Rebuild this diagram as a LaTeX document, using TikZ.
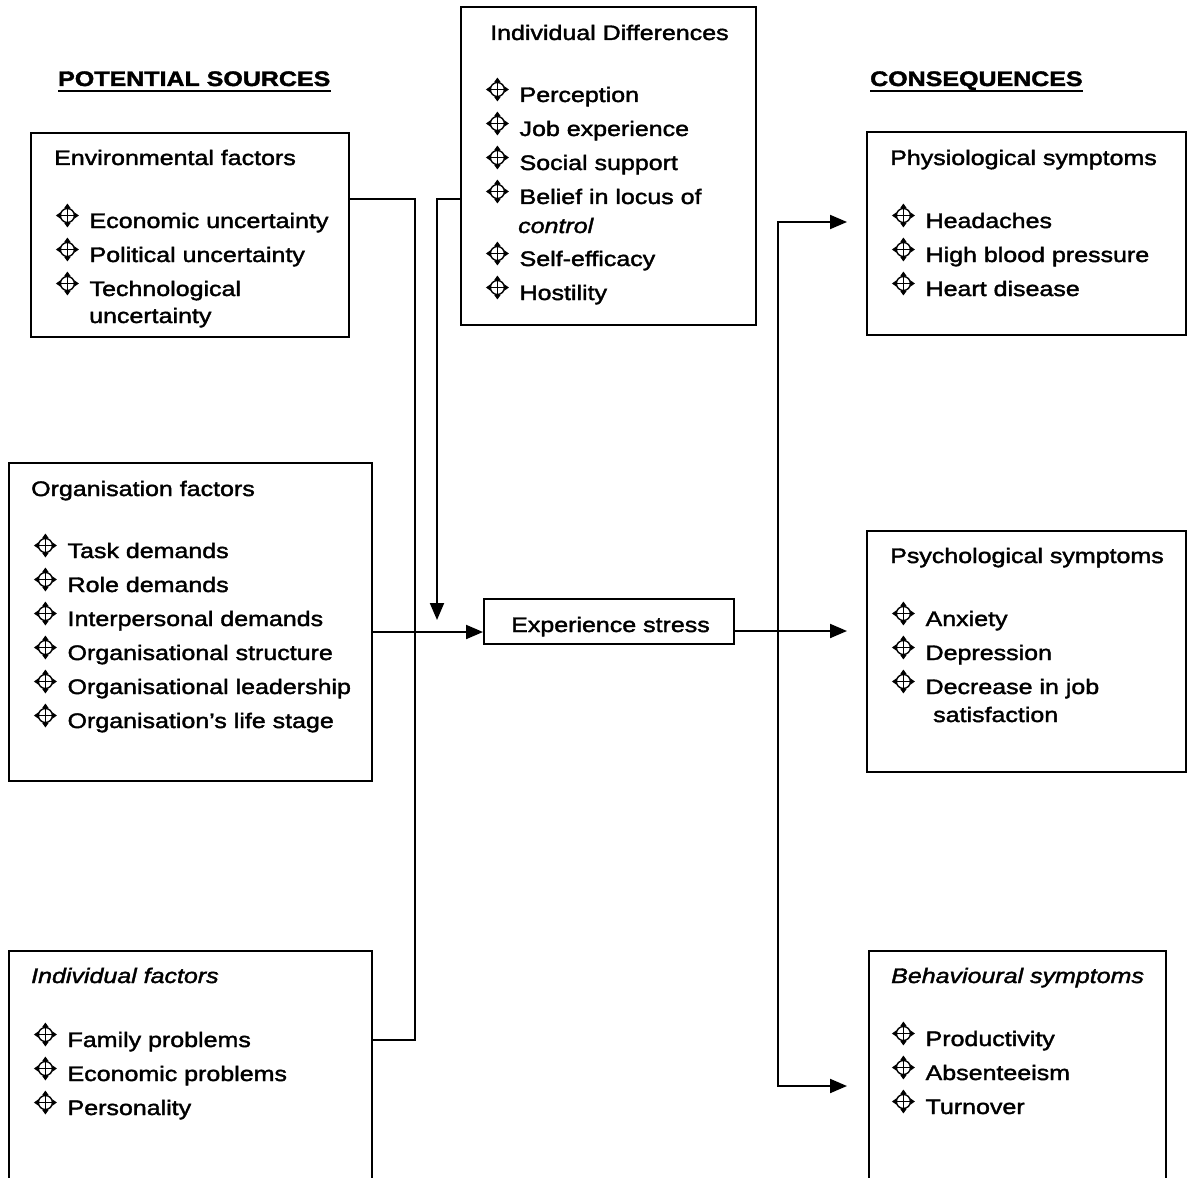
\documentclass[tikz,border=0pt]{standalone}
\usepackage{fontspec}
\setmainfont{Liberation Sans}[FakeStretch=1.19,FakeBold=1.8]
\usetikzlibrary{arrows.meta}
\newcommand\mvb{\tikz[baseline=0pt,x=1pt,y=1pt,line width=1.4pt,>={Triangle[length=4.5pt,width=6pt]}]{\draw (11.5,12.5) circle (7); \draw[<->] (0,12.5) -- (23,12.5); \draw[<->] (11.5,0.5) -- (11.5,24.5);}\hspace{10pt}}
\begin{document}
\begin{tikzpicture}[x=1pt,y=-1pt,
  box/.style={draw, line width=2pt, inner sep=0pt, anchor=north west},
  txt/.style={anchor=base west, inner sep=0pt, font=\fontsize{21}{25}\selectfont},
  arr/.style={-{Triangle[length=17pt,width=14pt]}, line width=2pt},
  conn/.style={line width=2pt}]
\useasboundingbox (0,0) rectangle (1193,1177);
\clip (0,0) rectangle (1193,1177);
\fill[white] (0,0) rectangle (1193,1177);

% headings
\node[txt, font=\fontsize{21}{25}\selectfont\bfseries] (hps) at (58,86) {POTENTIAL SOURCES};
\draw[line width=1.8pt] ([yshift=-5pt]hps.base west) -- ([yshift=-5pt]hps.base east);
\node[txt, font=\fontsize{21}{25}\selectfont\bfseries] (hcs) at (870,86) {CONSEQUENCES};
\draw[line width=1.8pt] ([yshift=-5pt]hcs.base west) -- ([yshift=-5pt]hcs.base east);

% boxes
\node[box, minimum width=318pt, minimum height=204pt] (env) at (30,132) {};
\node[box, minimum width=363pt, minimum height=318pt] (org) at (8,462) {};
\node[box, minimum width=363pt, minimum height=260pt] (indf) at (8,950) {};
\node[box, minimum width=295pt, minimum height=318pt] (diff) at (460,6) {};
\node[box, minimum width=250pt, minimum height=45pt] (es) at (483,598) {};
\node[box, minimum width=319pt, minimum height=203pt] (phy) at (866,131) {};
\node[box, minimum width=319pt, minimum height=241pt] (psy) at (866,530) {};
\node[box, minimum width=297pt, minimum height=260pt] (beh) at (868,950) {};

\node[txt] (est) at (511,632) {Experience stress};

% environmental factors
\node[txt] (e0) at (54,165) {Environmental factors};
\node[txt] (e1) at (55,228) {\mvb Economic uncertainty};
\node[txt] (e2) at (55,262) {\mvb Political uncertainty};
\node[txt] (e3) at (55,296) {\mvb Technological};
\node[txt] (e4) at (89,323) {uncertainty};

% organisation factors
\node[txt] (o0) at (31,496) {Organisation factors};
\node[txt] (o1) at (33,558) {\mvb Task demands};
\node[txt] (o2) at (33,592) {\mvb Role demands};
\node[txt] (o3) at (33,626) {\mvb Interpersonal demands};
\node[txt] (o4) at (33,660) {\mvb Organisational structure};
\node[txt] (o5) at (33,694) {\mvb Organisational leadership};
\node[txt] (o6) at (33,728) {\mvb Organisation's life stage};

% individual factors
\node[txt] (i0) at (31,983) {\itshape Individual factors};
\node[txt] (i1) at (33,1047) {\mvb Family problems};
\node[txt] (i2) at (33,1081) {\mvb Economic problems};
\node[txt] (i3) at (33,1115) {\mvb Personality};

% individual differences
\node[txt] (d0) at (490,40) {Individual Differences};
\node[txt] (d1) at (485,102) {\mvb Perception};
\node[txt] (d2) at (485,136) {\mvb Job experience};
\node[txt] (d3) at (485,170) {\mvb Social support};
\node[txt] (d4) at (485,204) {\mvb Belief in locus of};
\node[txt] (d5) at (518,233) {\itshape control};
\node[txt] (d6) at (485,266) {\mvb Self-efficacy};
\node[txt] (d7) at (485,300) {\mvb Hostility};

% physiological
\node[txt] (p0) at (890,165) {Physiological symptoms};
\node[txt] (p1) at (891,228) {\mvb Headaches};
\node[txt] (p2) at (891,262) {\mvb High blood pressure};
\node[txt] (p3) at (891,296) {\mvb Heart disease};

% psychological
\node[txt] (s0) at (890,563) {Psychological symptoms};
\node[txt] (s1) at (891,626) {\mvb Anxiety};
\node[txt] (s2) at (891,660) {\mvb Depression};
\node[txt] (s3) at (891,694) {\mvb Decrease in job};
\node[txt] (s4) at (933,722) {satisfaction};

% behavioural
\node[txt] (b0) at (891,983) {\itshape Behavioural symptoms};
\node[txt] (b1) at (891,1046) {\mvb Productivity};
\node[txt] (b2) at (891,1080) {\mvb Absenteeism};
\node[txt] (b3) at (891,1114) {\mvb Turnover};

% connectors
\coordinate (jA) at (415,199);
\coordinate (jB) at (415,1040);
\draw[conn] (env.east|-jA) -- (jA) -- (jB) -- (indf.east|-jB);

\coordinate (jC) at (437,632);
\draw[arr] (org.east|-jC) -- (es.west|-jC);

\coordinate (jD) at (437,199);
\coordinate (jE) at (437,620);
\draw[arr] (diff.west|-jD) -- (jD) -- (jE);

\coordinate (jF) at (778,631);
\coordinate (tM) at (847,631);
\coordinate (tT) at (847,222);
\coordinate (tB) at (847,1086);
\draw[arr] (es.east|-jF) -- (tM);
\draw[arr] (jF) |- (tT);
\draw[arr] (jF) |- (tB);
\end{tikzpicture}
\end{document}
